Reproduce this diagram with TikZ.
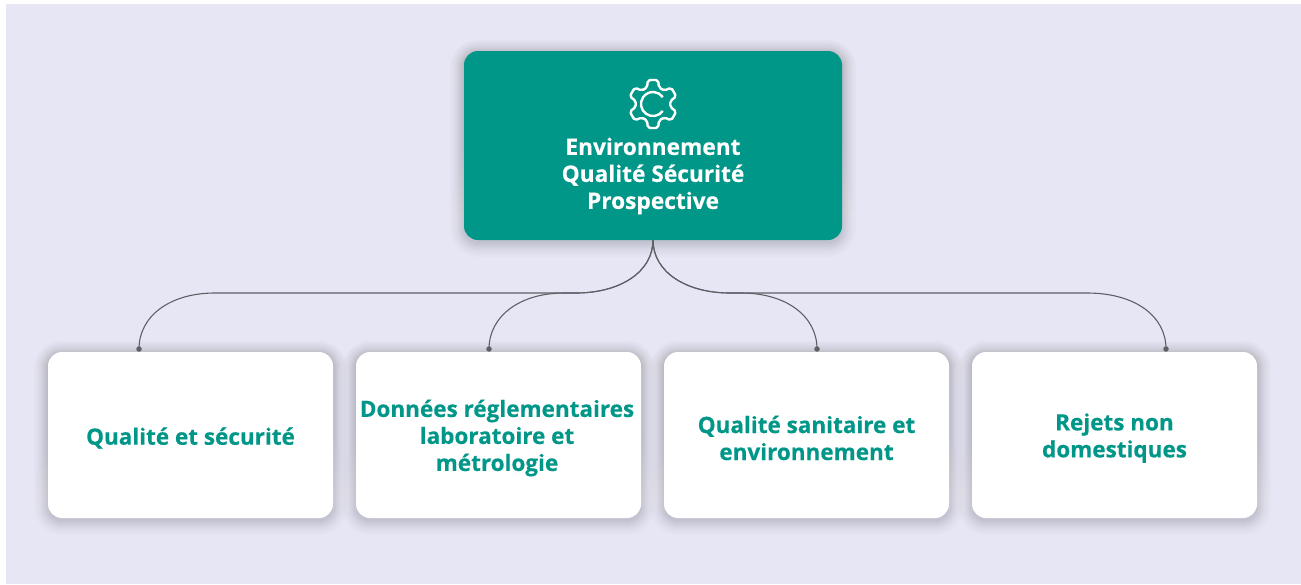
\documentclass[tikz,border=0pt]{standalone}
\usepackage{fontspec}
\setmainfont{Open Sans}[BoldFeatures={FakeBold=0.3}]
\definecolor{teal1}{HTML}{009688}
\definecolor{bgl}{HTML}{E7E6F4}
\definecolor{lineg}{HTML}{5F5F66}
\definecolor{shade}{HTML}{505064}
\tikzset{
  x=1pt,y=-1pt,
  topbox/.style={rounded corners=14pt,fill=teal1,draw=none,minimum width=378pt,minimum height=189pt,inner sep=0pt},
  subbox/.style={rounded corners=14pt,fill=white,draw=none,minimum width=285pt,minimum height=166pt,inner sep=0pt},
  subtext/.style={text=teal1,font=\fontsize{22.5}{27}\selectfont\bfseries,align=center,inner sep=0pt},
  toptext/.style={text=white,font=\fontsize{22.7}{27}\selectfont\bfseries,align=center,inner sep=0pt},
  link/.style={draw=lineg,line width=1.1pt},
  enddot/.style={circle,fill=lineg,minimum size=5.5pt,inner sep=0pt},
  iconline/.style={draw=white,line width=2.4pt},
}
\newcommand{\softshadow}[4]{%
  \foreach \s in {14,12,10,8.5,7,6,5,4,3,2,1,0}{
    \pgfmathsetmacro{\rr}{14+\s}
    \fill[shade,opacity=0.012,rounded corners=\rr pt]
      (#1-\s,#2-\s+3) rectangle (#3+\s,#4+\s+3);
  }
}
\begin{document}
\begin{tikzpicture}
\useasboundingbox (0,0) rectangle (1301,584);
\fill[white] (0,0) rectangle (1301,584);
\fill[bgl] (6,4) rectangle (1301,584);
% shadows
\softshadow{464}{51}{842}{240}
\softshadow{48}{352}{333}{518}
\softshadow{356}{352}{641}{518}
\softshadow{664}{352}{949}{518}
\softshadow{972}{352}{1257}{518}
% end dots
\node[enddot] (d1) at (139,349) {};
\node[enddot] (d2) at (489,349) {};
\node[enddot] (d3) at (817,349) {};
\node[enddot] (d4) at (1166,349) {};
% top box
\node[topbox] (root) at (653,145.5) {};
\coordinate (rootb) at (653,240);
% connectors
\draw[link] (rootb) .. controls (653,272) and (620,293) .. (576,293) -- (215,293) .. controls (170,293) and (139,316) .. (d1.center);
\draw[link] (rootb) .. controls (653,272) and (620,293) .. (576,293) -- (564,293) .. controls (520,293) and (489,316) .. (d2.center);
\draw[link] (rootb) .. controls (653,272) and (686,293) .. (730,293) -- (741,293) .. controls (786,293) and (817,316) .. (d3.center);
\draw[link] (rootb) .. controls (653,272) and (686,293) .. (730,293) -- (1087,293) .. controls (1135,293) and (1166,316) .. (d4.center);
% sub boxes
\node[subbox] (b1) at (190.5,435) {};
\node[subbox] (b2) at (498.5,435) {};
\node[subbox] (b3) at (806.5,435) {};
\node[subbox] (b4) at (1114.5,435) {};
\node[subtext] (t1) at (190.5,438) {Qualité et sécurité};
\node[subtext] (t2) at (497,438) {Données réglementaires\\laboratoire et\\métrologie};
\node[subtext] (t3) at (806.5,438) {Qualité sanitaire et\\environnement};
\node[subtext] (t4) at (1114.5,438) {Rejets non\\domestiques};
% title
\node[toptext] (title) at (653,176) {Environnement\\Qualité Sécurité\\Prospective};
% gear icon
\begin{scope}[shift={(653,104)}]
  \draw[iconline,rounded corners=2pt,line join=round]
    (70:17.5) -- (78:24.5) -- (102:24.5) -- (110:17.5)
    -- (130:17.5) -- (138:24.5) -- (162:24.5) -- (170:17.5)
    -- (190:17.5) -- (198:24.5) -- (222:24.5) -- (230:17.5)
    -- (250:17.5) -- (258:24.5) -- (282:24.5) -- (290:17.5)
    -- (310:17.5) -- (318:24.5) -- (342:24.5) -- (350:17.5)
    -- (10:17.5) -- (18:24.5) -- (42:24.5) -- (50:17.5) -- cycle;
  \draw[iconline] (35:12) arc[start angle=35,end angle=325,radius=12];
\end{scope}
\end{tikzpicture}
\end{document}
